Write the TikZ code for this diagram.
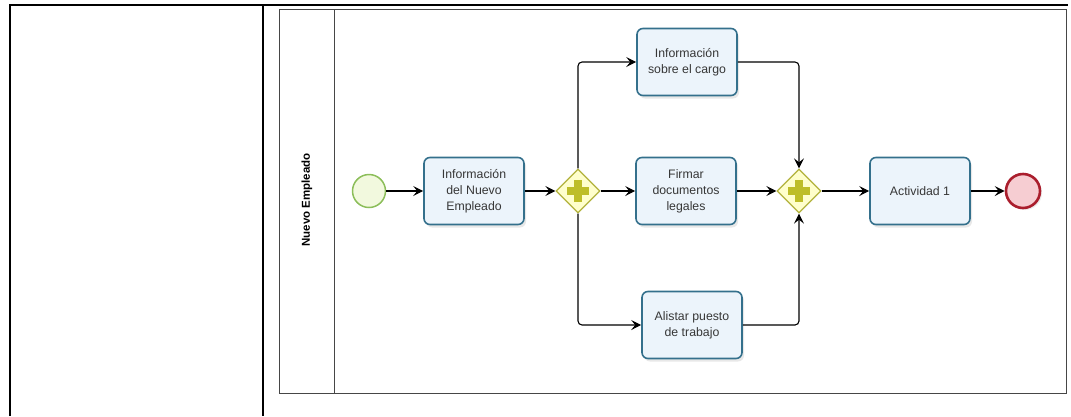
\documentclass[tikz,border=0pt]{standalone}
\usepackage{fontspec}
\setmainfont{Liberation Sans}
\usetikzlibrary{shapes.geometric,arrows.meta,shadows}
\definecolor{taskline}{RGB}{52,112,140}
\definecolor{taskfill}{RGB}{236,244,251}
\definecolor{gwline}{RGB}{178,178,60}
\definecolor{gwfill}{RGB}{255,255,204}
\definecolor{gwplus}{RGB}{190,190,40}
\definecolor{startline}{RGB}{140,190,90}
\definecolor{startfill}{RGB}{242,249,222}
\definecolor{endline}{RGB}{170,30,45}
\definecolor{endfill}{RGB}{246,205,210}
\definecolor{txt}{RGB}{55,55,55}
\definecolor{poolline}{RGB}{70,70,70}
\begin{document}
\begin{tikzpicture}[x=1pt,y=-1pt,
  task/.style={rectangle, rounded corners=6pt, draw=taskline, line width=1.6pt, fill=taskfill,
    minimum width=100pt, minimum height=67pt, align=center, inner sep=2pt,
    font=\fontsize{12.3}{16}\selectfont, text=txt,
    drop shadow={opacity=0.18, shadow xshift=2pt, shadow yshift=-3pt}},
  gateway/.style={diamond, aspect=1, minimum width=44pt, minimum height=44pt, inner sep=0pt,
    draw=gwline, line width=1.3pt, fill=gwfill},
  startev/.style={circle, minimum size=33pt, inner sep=0pt, draw=startline, line width=1.5pt, fill=startfill},
  endev/.style={circle, minimum size=34pt, inner sep=0pt, draw=endline, line width=2.6pt, fill=endfill,
    drop shadow={opacity=0.15, shadow xshift=2pt, shadow yshift=-2pt}},
  flow/.style={draw=black, line width=1.1pt, -{Stealth[length=10pt,width=10pt,inset=4pt]}},
  tableline/.style={draw=black, line width=2pt},
  poolstyle/.style={draw=poolline, line width=1pt}
]
\useasboundingbox (0,0) rectangle (1071,416);
% outer table
\draw[tableline] (10,416) -- (10,5) -- (1068,5);
\draw[tableline] (263,5) -- (263,416);
% pool
\draw[poolstyle] (279,9) rectangle (1066,393);
\draw[poolstyle] (334,9) -- (334,393);
\node[rotate=90, font=\bfseries\fontsize{11.5}{11.5}\selectfont, text=black] (lane) at (307,200) {Nuevo Empleado};
% elements
\node[startev] (start) at (369,191) {};
\node[task] (t1) at (474,191) {Información\\del Nuevo\\Empleado};
\node[gateway] (g1) at (578,191) {};
\node[task] (t2) at (687,62) {Información\\sobre el cargo};
\node[task] (t3) at (686,191) {Firmar\\documentos\\legales};
\node[task] (t4) at (692,325) {Alistar puesto\\de trabajo};
\node[gateway] (g2) at (799,191) {};
\node[task] (a1) at (920,191) {Actividad 1};
\node[endev] (end) at (1023,191) {};
% plus signs
\foreach \g in {g1,g2}{
  \fill[gwplus] ([xshift=-11pt,yshift=-4pt]\g.center) rectangle ([xshift=11pt,yshift=4pt]\g.center);
  \fill[gwplus] ([xshift=-4pt,yshift=-11pt]\g.center) rectangle ([xshift=4pt,yshift=11pt]\g.center);
}
% flows
\draw[flow] (start) -- (t1);
\draw[flow] (t1) -- (g1);
\draw[flow] (g1) -- (t3);
\draw[flow, rounded corners=4pt] (g1.north) |- (t2.west);
\draw[flow, rounded corners=4pt] (g1.south) |- (t4.west);
\draw[flow, rounded corners=4pt] (t2.east) -| (g2.north);
\draw[flow, rounded corners=4pt] (t4.east) -| (g2.south);
\draw[flow] (t3) -- (g2);
\draw[flow] (g2) -- (a1);
\draw[flow] (a1) -- (end);
\end{tikzpicture}
\end{document}
